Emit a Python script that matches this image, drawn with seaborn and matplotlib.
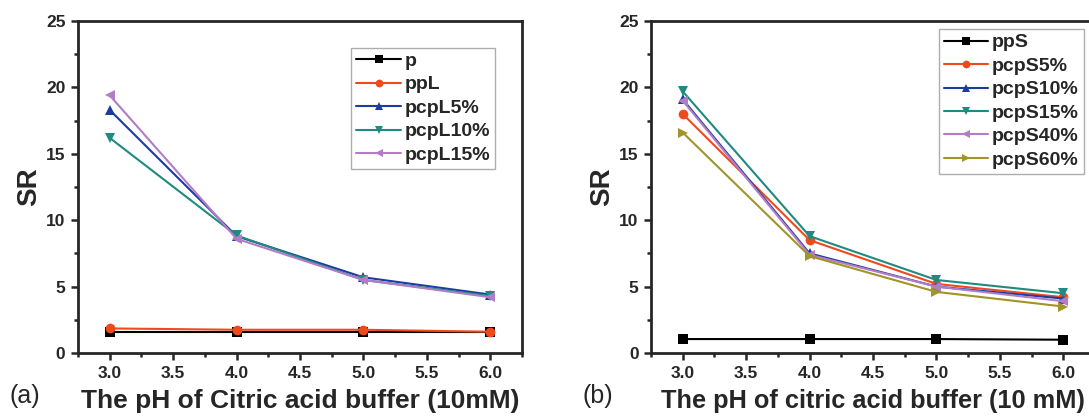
import pandas as pd
import numpy as np
import seaborn as sns
import matplotlib.pyplot as plt
from matplotlib.ticker import MultipleLocator

# pH values
ph = [3.0, 4.0, 5.0, 6.0]

# panel (a)
names_a = ["p", "ppL", "pcpL5%", "pcpL10%", "pcpL15%"]
p_vals = [1.6, 1.6, 1.6, 1.6]
ppL_vals = [1.85, 1.75, 1.75, 1.6]
pcpL5_vals = [18.3, 8.8, 5.7, 4.4]
pcpL10_vals = [16.2, 8.85, 5.5, 4.3]
pcpL15_vals = [19.4, 8.6, 5.5, 4.2]

# panel (b)
names_b = ["ppS", "pcpS5%", "pcpS10%", "pcpS15%", "pcpS40%", "pcpS60%"]
ppS_vals = [1.05, 1.05, 1.05, 1.0]
pcpS5_vals = [18.0, 8.5, 5.2, 4.2]
pcpS10_vals = [19.1, 7.5, 5.0, 4.1]
pcpS15_vals = [19.7, 8.8, 5.5, 4.5]
pcpS40_vals = [19.0, 7.4, 5.0, 3.9]
pcpS60_vals = [16.6, 7.3, 4.6, 3.5]

colors = ["#000000", "#F04A1C", "#1C3C9E", "#1E8A80", "#B27CC6", "#A0942A"]
markers = ["s", "o", "^", "v", "<", ">"]

sns.set_theme(style="ticks")
plt.rcParams['font.family'] = ['Liberation Sans', 'DejaVu Sans']
plt.rcParams['font.weight'] = 'bold'


def long_df(names, series):
    rows = []
    for n, vals in zip(names, series):
        for x, y in zip(ph, vals):
            rows.append({"pH": x, "SR": y, "sample": n})
    return pd.DataFrame(rows)


df_a = long_df(names_a, [p_vals, ppL_vals, pcpL5_vals, pcpL10_vals, pcpL15_vals])
df_b = long_df(names_b, [ppS_vals, pcpS5_vals, pcpS10_vals, pcpS15_vals, pcpS40_vals, pcpS60_vals])

fig = plt.figure(figsize=(10.89, 4.18), dpi=100)
ax1 = fig.add_axes([0.0716, 0.1555, 0.4077, 0.7943])
ax2 = fig.add_axes([0.5978, 0.1555, 0.4077, 0.7943])


def draw(ax, df, names, xlabel, tag, legend_anchor, xl_size):
    n = len(names)
    sns.lineplot(data=df, x="pH", y="SR", hue="sample", style="sample",
                 hue_order=names, style_order=names,
                 palette=dict(zip(names, colors[:n])),
                 markers=dict(zip(names, markers[:n])), dashes=False,
                 markersize=7, markeredgewidth=0, linewidth=1.5, ax=ax)
    ax.set_xlim(2.75, 6.25)
    ax.set_ylim(0, 25)
    ax.xaxis.set_major_locator(MultipleLocator(0.5))
    ax.xaxis.set_minor_locator(MultipleLocator(0.25))
    ax.yaxis.set_major_locator(MultipleLocator(5))
    ax.yaxis.set_minor_locator(MultipleLocator(2.5))
    ax.tick_params(which="major", direction="out", length=5, width=1.8,
                   labelsize=12.5, pad=4)
    ax.tick_params(which="minor", direction="out", length=3, width=1.8)
    ax.set_xticks([3.0, 3.5, 4.0, 4.5, 5.0, 5.5, 6.0])
    ax.set_xticklabels(["3.0", "3.5", "4.0", "4.5", "5.0", "5.5", "6.0"], fontweight="bold")
    for lab in ax.get_yticklabels():
        lab.set_fontweight("bold")
    for s in ax.spines.values():
        s.set_linewidth(2.0)
        s.set_visible(True)
    ax.set_xlabel(xlabel, fontsize=xl_size, fontweight="bold", labelpad=6)
    ax.set_ylabel("SR", fontsize=20, fontweight="bold", labelpad=3)
    leg = ax.legend(loc="upper right", bbox_to_anchor=legend_anchor,
                    borderaxespad=0, frameon=True, fancybox=False,
                    edgecolor="#999999",
                    prop={"weight": "bold", "size": 14}, handlelength=2.3,
                    handletextpad=0.2, labelspacing=0.3, borderpad=0.25,
                    markerscale=0.8)
    leg.get_frame().set_linewidth(1.0)
    ax.text(-0.155, -0.13, tag, transform=ax.transAxes, fontsize=18,
            fontweight="normal", ha="left", va="center")


draw(ax1, df_a, names_a, "The pH of Citric acid buffer (10mM)", "(a)", (0.94, 0.92), 19)
draw(ax2, df_b, names_b, "The pH of citric acid buffer (10 mM)", "(b)", (0.975, 0.976), 18.3)

fig.savefig("out.png", dpi=100)
